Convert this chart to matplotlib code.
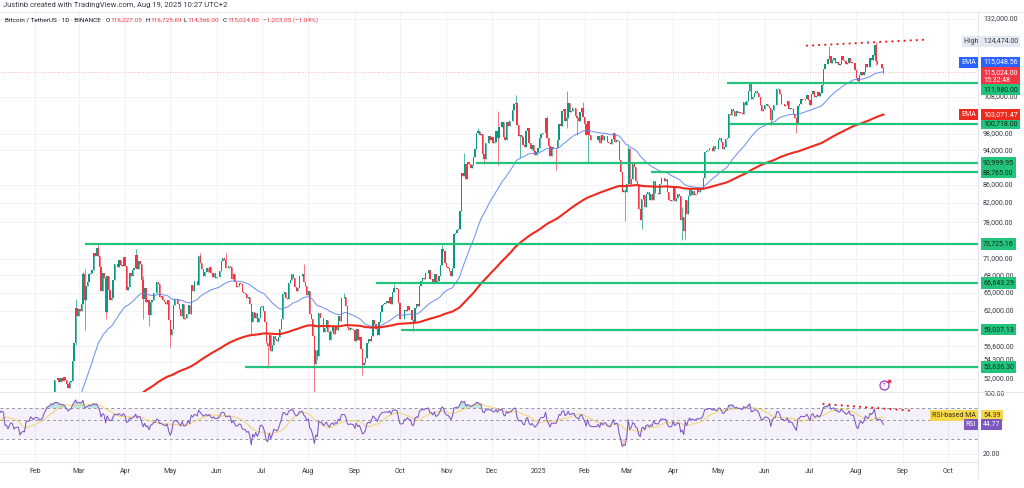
import numpy as np
import pandas as pd
import matplotlib
matplotlib.use("Agg")
import matplotlib.pyplot as plt
import matplotlib.dates as mdates
from matplotlib import transforms
from matplotlib.lines import Line2D

plt.rcParams["font.family"] = ["Roboto", "DejaVu Sans"]

W, H = 1024, 488

# ============================================================
# DAILY CLOSES  (BTC/USDT, Binance, 1D)
# ============================================================
DEC_2023 = [43650, 43860, 43990, 43720, 43010, 43580, 42510, 43440, 42580, 42070,
            42140, 42280]
JAN_2024 = [44180, 44950, 42850, 44150, 44160, 43970, 43930, 46970, 46120, 46630,
            46350, 42780, 42850, 41730, 42510, 43140, 42770, 41260, 41620, 41660,
            41570, 39520, 39890, 40080, 39930, 41820, 42120, 42030, 43300, 42940, 42580]
FEB_2024 = [43080, 43190, 43000, 42580, 42700, 43090, 44340, 45290, 47130, 47750,
            48290, 49960, 49700, 51800, 51920, 52140, 51650, 52130, 51780, 52260,
            51840, 51300, 50730, 51570, 51730, 54480, 57040, 62430, 61130]
MAR_2024 = [62390, 62030, 63130, 68250, 63720, 66080, 66850, 68260, 68340, 68950,
            72110, 71430, 73060, 71400, 69450, 65310, 68390, 67550, 61910, 67910,
            65490, 63780, 64040, 67220, 69960, 69980, 69430, 70760, 69880, 69640, 71280]
APR_2024 = [69650, 65460, 65960, 68490, 67820, 68900, 69360, 71620, 69140, 70590,
            70060, 67190, 63920, 65740, 63410, 63790, 61280, 63470, 63820, 64940,
            64940, 66840, 66410, 64280, 64500, 63770, 63460, 63120, 63840, 60640]
MAY_2024 = [58250, 59120, 62890, 63890, 64010, 63160, 62330, 61190, 63070, 60790,
            60820, 61480, 62940, 61580, 66270, 65230, 67050, 66940, 66280, 71450,
            70140, 69120, 67930, 68530, 69290, 68510, 69390, 68370, 67630, 68350, 67490]
JUN_2024 = [67710, 67750, 68800, 70570, 71080, 70760, 69340, 69310, 69650, 69510,
            67320, 68240, 66760, 66010, 66190, 66640, 66490, 65150, 64960, 64830,
            64100, 64260, 63200, 60280, 61800, 60860, 61670, 60320, 60890, 62680]
JUL_2024 = [62770, 62020, 60200, 57040, 56640, 58230, 55850, 56700, 58050, 57720,
            57340, 57890, 59200, 60800, 64720, 65040, 64090, 63990, 66660, 67150,
            68160, 67540, 65930, 65370, 65800, 67910, 67810, 68250, 66780, 66190, 64620]
AUG_2024 = [65350, 61500, 60690, 58110, 53990, 56030, 55130, 61680, 60830, 60900,
            58710, 59350, 60600, 58740, 57560, 58870, 59480, 58430, 59490, 59010,
            61160, 60380, 64090, 64180, 64250, 62830, 59420, 59030, 59360, 59120, 58970]
SEP_2024 = [57330, 59130, 57490, 57970, 56160, 53960, 54160, 54870, 57050, 57640,
            57340, 58130, 60500, 60000, 59180, 58210, 60310, 61760, 62950, 63200,
            63350, 63580, 63330, 64300, 63140, 65180, 65770, 65860, 65600, 63300]
OCT_2024 = [60800, 60650, 60750, 62080, 62060, 62820, 62220, 62130, 60580, 60270,
            62450, 63190, 62850, 66080, 67040, 67610, 67400, 68430, 68360, 69000,
            67370, 67380, 66650, 68160, 66640, 67010, 67930, 69910, 72720, 72340, 70220]
NOV_2024 = [69490, 69370, 68780, 67810, 69360, 75640, 75900, 76540, 76680, 80370,
            88700, 87960, 90580, 87250, 91070, 90610, 89850, 90460, 92310, 94290,
            98320, 98890, 97670, 97900, 93010, 91970, 95860, 95640, 97460, 96410]
DEC_2024 = [97190, 95840, 96000, 98770, 96970, 99870, 99830, 101110, 97360, 96590,
            101120, 100010, 101420, 101370, 104300, 106060, 106130, 100200, 97460, 97800,
            97290, 95190, 94880, 98670, 99430, 95790, 94300, 95280, 93730, 92790, 93580]
JAN_2025 = [94590, 96890, 98110, 98240, 98350, 102280, 96950, 95040, 92480, 94700,
            94570, 94540, 94500, 96530, 100500, 99990, 104080, 104560, 101330, 102260,
            106140, 103650, 103960, 104820, 104710, 102590, 102080, 101330, 103730, 104740, 102430]
FEB_2025 = [100640, 97690, 101400, 97870, 96620, 96550, 96480, 96500, 96450, 97430,
            95780, 97870, 96610, 97500, 97570, 96120, 95770, 95540, 96640, 98330,
            96130, 96580, 96270, 91550, 88740, 84350, 84700, 84350]
MAR_2025 = [86070, 94270, 86220, 87220, 90620, 89960, 86740, 86150, 80730, 78530,
            82860, 83720, 81070, 83970, 84340, 82580, 84010, 82720, 86850, 84170,
            84040, 83830, 86080, 87500, 87420, 86900, 87220, 84350, 82600, 82340, 82550]
APR_2025 = [85160, 82490, 83100, 83840, 83500, 78370, 79140, 76270, 82570, 79590,
            83400, 85280, 83760, 84540, 83600, 84020, 84900, 84450, 85060, 85170,
            87510, 93440, 93690, 93980, 94640, 94630, 93750, 95010, 94260, 94170]
MAY_2025 = [96490, 96910, 95890, 94320, 94750, 96830, 97030, 103240, 102970, 104700,
            104120, 102790, 104140, 103490, 103740, 103480, 103120, 106450, 105610, 106830,
            109670, 111700, 107290, 107790, 109030, 109440, 108940, 107780, 105640, 103990, 104600]
JUN_2025 = [105650, 105880, 105430, 104730, 101580, 104390, 105600, 105730, 110260, 110260,
            108690, 105930, 106070, 105410, 105590, 106800, 104550, 104850, 104620, 103300,
            102120, 100960, 105390, 105920, 107300, 106990, 107070, 107310, 108360, 107130]
JUL_2025 = [105680, 108830, 109570, 107990, 108180, 109170, 108220, 108920, 111230, 115980,
            117520, 117420, 119080, 119840, 117680, 118750, 119180, 117920, 117960, 117230,
            117380, 119950, 118750, 118340, 117600, 117920, 119450, 118060, 117920, 117830, 115760]
AUG_2025 = [113300, 112550, 114210, 115050, 114110, 115010, 117500, 116670, 116460, 119290,
            118690, 120130, 123310, 118300, 117340, 117380, 117490, 116227.05, 115024.00]

MONTHS = [("2023-12-20", DEC_2023), ("2024-01-01", JAN_2024), ("2024-02-01", FEB_2024),
          ("2024-03-01", MAR_2024), ("2024-04-01", APR_2024), ("2024-05-01", MAY_2024),
          ("2024-06-01", JUN_2024), ("2024-07-01", JUL_2024), ("2024-08-01", AUG_2024),
          ("2024-09-01", SEP_2024), ("2024-10-01", OCT_2024), ("2024-11-01", NOV_2024),
          ("2024-12-01", DEC_2024), ("2025-01-01", JAN_2025), ("2025-02-01", FEB_2025),
          ("2025-03-01", MAR_2025), ("2025-04-01", APR_2025), ("2025-05-01", MAY_2025),
          ("2025-06-01", JUN_2025), ("2025-07-01", JUL_2025), ("2025-08-01", AUG_2025)]

# the visible long wicks
WICK_HIGHS = {
    "2024-02-28": 63970, "2024-03-04": 68500, "2024-03-05": 69170, "2024-03-14": 73777,
    "2024-04-08": 72800, "2024-04-13": 67930, "2024-05-21": 71950, "2024-06-07": 71997,
    "2024-07-29": 70080, "2024-08-05": 58300, "2024-08-25": 65000, "2024-09-27": 66500,
    "2024-10-29": 73620, "2024-11-13": 93265, "2024-11-22": 99588, "2024-12-05": 104088,
    "2024-12-17": 108353, "2025-01-07": 102725, "2025-01-20": 109588, "2025-01-31": 106457,
    "2025-03-02": 95000, "2025-03-03": 94420, "2025-04-07": 81243, "2025-05-22": 111980,
    "2025-06-10": 110400, "2025-07-14": 123218, "2025-08-14": 124474, "2025-08-19": 116725.69,
}
WICK_LOWS = {
    "2024-02-28": 56700, "2024-03-05": 59005, "2024-03-19": 60775, "2024-04-13": 60660,
    "2024-04-17": 59600, "2024-05-01": 56552, "2024-06-24": 58400, "2024-07-05": 53485,
    "2024-08-05": 49000, "2024-08-07": 54560, "2024-09-06": 52550, "2024-10-10": 58900,
    "2024-11-26": 90790, "2024-12-05": 90500, "2024-12-20": 92232, "2025-01-13": 89256,
    "2025-01-20": 99550, "2025-01-27": 97795, "2025-02-03": 91231, "2025-02-28": 78258,
    "2025-03-11": 76606, "2025-04-07": 74508, "2025-04-09": 74620, "2025-06-05": 100372,
    "2025-06-22": 98200, "2025-08-03": 111920, "2025-08-14": 117180, "2025-08-19": 114366,
}

# EMA state just before the first candle (estimated)
EMA_FAST_SEED, EMA_SLOW_SEED = 40500, 34000

# horizontal support / resistance lines
LEVELS = [111980.00, 100718.00, 90999.95, 88765.00, 73725.16, 66643.29, 59037.13, 53636.30]
LEVEL_START = ["2025-05-07", "2025-05-08", "2024-11-21", "2025-03-17",
               "2024-03-05", "2024-09-15", "2024-10-02", "2024-06-20"]

# dotted divergence lines
TREND_DATES = ["2025-06-29", "2025-09-15"]
TREND_PRICE = [123200, 125100]
RSI_TREND_DATES = ["2025-07-10", "2025-09-07"]
RSI_TREND_VALS = [78.2, 65.2]

PRICE_TICKS = [132000, 108000, 98000, 94000, 86000, 82000, 78000, 71000,
               68000, 65000, 62000, 56600, 54300, 52000]
RSI_TICKS = [100, 20]

OHLC = [116227.05, 116725.69, 114366.00, 115024.00]
CHANGE, CHANGE_PCT = -1203.05, -1.04
EMA_FAST_LAST, EMA_SLOW_LAST = 115048.56, 103071.47
HIGH_LAST = 124474.00
RSI_LAST, RSI_MA_LAST = 44.77, 54.39

# ============================================================
# BUILD SERIES
# ============================================================
dates, closes = [], []
for i, (start, vals) in enumerate(MONTHS):
    d0 = pd.Timestamp(start)
    n = d0.days_in_month - d0.day + 1
    if i < len(MONTHS) - 1:
        assert len(vals) == n, (start, len(vals), n)
    dates += list(pd.date_range(d0, periods=len(vals), freq="D"))
    closes += vals
dates = pd.DatetimeIndex(dates)
closes = np.array(closes, float)
opens = np.r_[closes[0], closes[:-1]]
highs = np.maximum(opens, closes)
lows = np.minimum(opens, closes)
pos = {d.strftime("%Y-%m-%d"): i for i, d in enumerate(dates)}
for d, v in WICK_HIGHS.items():
    highs[pos[d]] = max(highs[pos[d]], v)
for d, v in WICK_LOWS.items():
    lows[pos[d]] = min(lows[pos[d]], v)
x = mdates.date2num(dates)


def ema(values, span, seed):
    a = 2 / (span + 1)
    out, e = [], seed
    for v in values:
        e += a * (v - e)
        out.append(e)
    return np.array(out)


ema_fast = ema(closes, 50, EMA_FAST_SEED)
ema_slow = ema(closes, 200, EMA_SLOW_SEED)

diff = np.diff(closes, prepend=closes[0])
up = pd.Series(np.clip(diff, 0, None)).ewm(alpha=1 / 14, adjust=False).mean()
dn = pd.Series(np.clip(-diff, 0, None)).ewm(alpha=1 / 14, adjust=False).mean()
rsi = (100 - 100 / (1 + up / dn)).to_numpy()
rsi_ma = pd.Series(rsi).rolling(14).mean().to_numpy()

# ============================================================
# FIGURE
# ============================================================
GREEN_C, RED_C = "#089981", "#f23645"
LEVEL_C = "#22c47c"
TXT = "#363a45"
GRID = "#f0f2f6"
SEP = "#e0e3eb"

fig = plt.figure(figsize=(W / 100, H / 100), dpi=100)
fig.patch.set_facecolor("white")
ax = fig.add_axes([0, (H - 392) / H, 978 / W, 380 / H])
ax_r = fig.add_axes([0, (H - 462) / H, 978 / W, 70 / H], sharex=ax)

PX_PER_DAY = 1.5017
x_left = mdates.date2num(pd.Timestamp("2024-02-01")) - 35 / PX_PER_DAY
x_right = x_left + 978 / PX_PER_DAY

months = pd.date_range("2024-02-01", "2025-10-01", freq="MS")
month_x = mdates.date2num(months)
month_lbl = [str(m.year) if m.month == 1 else m.strftime("%b") for m in months]

for a in (ax, ax_r):
    for s in a.spines.values():
        s.set_visible(False)
    for mx in month_x:
        a.axvline(mx, color=GRID, lw=0.7, zorder=0)

# --- price pane ---
ax.set_yscale("log")
for t in PRICE_TICKS:
    ax.axhline(t, color=GRID, lw=0.7, zorder=0)

up_mask = closes >= opens
cols = np.where(up_mask, GREEN_C, RED_C)
ax.vlines(x, lows, highs, colors=cols, lw=0.6, alpha=0.8, zorder=2)
ax.bar(x, np.maximum(np.abs(closes - opens), 1), bottom=np.minimum(opens, closes),
       width=0.85, color=cols, linewidth=0, zorder=3)

ax.plot(x, ema_fast, color="#5b80ee", lw=0.75, alpha=0.85, zorder=4)
ax.plot(x, ema_slow, color="#ee2a1e", lw=1.5, zorder=4)

for lv, st in zip(LEVELS, LEVEL_START):
    ax.hlines(lv, mdates.date2num(pd.Timestamp(st)), x_right, color=LEVEL_C, lw=1.6, zorder=5)

ax.plot(mdates.date2num(pd.to_datetime(TREND_DATES)), TREND_PRICE, color="#e8221b",
        lw=1.6, ls=(0, (0.05, 2.7)), dash_capstyle="round", zorder=6)
ax.axhline(OHLC[3], color=RED_C, lw=0.6, ls=(0, (1, 2)), alpha=0.45, zorder=1)

ax.set_xlim(x_left, x_right)
ax.set_ylim(50270, 134414)
ax.set_yticks([])
ax.set_yticks([], minor=True)
ax.tick_params(axis="x", which="both", length=0, labelbottom=False)

# lightning badge
ax.plot([0.904], [0.019], transform=ax.transAxes, marker="o", ms=6.5, mfc="white",
        mec="#a23bc4", mew=0.9, clip_on=False, zorder=7)
ax.text(0.904, 0.019, "\u26a1", transform=ax.transAxes, fontsize=4.5, color="#a23bc4",
        ha="center", va="center", family="DejaVu Sans", zorder=8)
ax.plot([0.9085], [0.029], transform=ax.transAxes, marker="o", ms=1.8, color=RED_C,
        clip_on=False, zorder=9)

# --- RSI pane ---
ax_r.set_yscale("log")
ax_r.axhspan(30, 70, color="#7e57c2", alpha=0.08, lw=0, zorder=0)
for lv in (70, 50, 30):
    ax_r.axhline(lv, color="#9598a1", lw=0.7, ls=(0, (3, 3)), zorder=1)
ax_r.axhline(20, color=GRID, lw=0.7, zorder=0)
ax_r.fill_between(x, 70, rsi, where=rsi > 70, color="#26a69a", alpha=0.3, lw=0, zorder=2)
ax_r.fill_between(x, 30, rsi, where=rsi < 30, color="#ef5350", alpha=0.3, lw=0, zorder=2)
ax_r.plot(x, rsi_ma, color="#f2cf5b", lw=0.8, alpha=0.8, zorder=3)
ax_r.plot(x, rsi, color="#7e57c2", lw=0.75, zorder=4)
ax_r.plot(mdates.date2num(pd.to_datetime(RSI_TREND_DATES)), RSI_TREND_VALS, color="#e8221b",
          lw=1.6, ls=(0, (0.05, 2.7)), dash_capstyle="round", zorder=6)
ax_r.set_ylim(16.1, 108.5)
ax_r.set_yticks([])
ax_r.set_yticks([], minor=True)
ax_r.set_xticks(month_x)
ax_r.set_xticklabels(month_lbl, fontsize=5, color=TXT)
ax_r.tick_params(axis="x", length=0, pad=4)

# separators
for coords in ([[0, 1], [1 - 12 / H] * 2], [[0, 1], [1 - 392 / H] * 2],
               [[0, 978 / W], [1 - 462 / H] * 2], [[978 / W] * 2, [1 - 12 / H, 1 - 478 / H]]):
    fig.add_artist(Line2D(coords[0], coords[1], transform=fig.transFigure, color=SEP, lw=0.6))

# ============================================================
# RIGHT AXIS LABELS
# ============================================================
def axis_label(a, value, text, fc=None, tc=TXT, dy=0, x_px=983, ha="left", size=5):
    tr = transforms.offset_copy(
        transforms.blended_transform_factory(fig.transFigure, a.transData),
        fig=fig, y=dy, units="dots")
    kw = {}
    if fc:
        kw["bbox"] = dict(boxstyle="square,pad=0.3", fc=fc, ec="none")
    a.text(x_px / W, value, text, transform=tr, fontsize=size, color=tc, ha=ha,
           va="center", clip_on=False, zorder=20, linespacing=1.15, **kw)


for t in PRICE_TICKS:
    axis_label(ax, t, f"{t:,.2f}", dy=3 if t == 54300 else 0)
for t in RSI_TICKS:
    axis_label(ax_r, t, f"{t:,.2f}")

axis_label(ax, HIGH_LAST, f"High   {HIGH_LAST:,.2f}", fc="#e4e8f2", x_px=964)
axis_label(ax, EMA_FAST_LAST, "EMA", fc="#2962ff", tc="white", dy=10, x_px=976, ha="right")
axis_label(ax, EMA_FAST_LAST, f"{EMA_FAST_LAST:,.2f}", fc="#2962ff", tc="white", dy=10)
axis_label(ax, OHLC[3], f"{OHLC[3]:,.2f}\n15:32:48", fc=RED_C, tc="white", dy=-4)
for lv in LEVELS:
    axis_label(ax, lv, f"{lv:,.2f}", fc=LEVEL_C, tc="#0d2b1c", dy=-7 if lv == LEVELS[0] else 0)
axis_label(ax, EMA_SLOW_LAST, "EMA", fc="#ee2a1e", tc="white", x_px=976, ha="right")
axis_label(ax, EMA_SLOW_LAST, f"{EMA_SLOW_LAST:,.2f}", fc="#ee2a1e", tc="white")

axis_label(ax_r, RSI_MA_LAST, "RSI-based MA", fc="#f7d84a", tc="#3a3310", dy=2, x_px=976, ha="right")
axis_label(ax_r, RSI_MA_LAST, f"{RSI_MA_LAST:.2f}", fc="#f7d84a", tc="#3a3310", dy=2)
axis_label(ax_r, RSI_LAST, "RSI", fc="#7e57c2", tc="white", x_px=976, ha="right")
axis_label(ax_r, RSI_LAST, f"{RSI_LAST:.2f}", fc="#7e57c2", tc="white")

# ============================================================
# HEADER
# ============================================================
renderer = fig.canvas.get_renderer()


def run_text(x_px, y_px, parts, size):
    for s, c in parts:
        t = fig.text(x_px / W, 1 - y_px / H, s, color=c, fontsize=size, va="center")
        x_px += t.get_window_extent(renderer).width


def top(x_px, y_px, s, c, size):
    fig.text(x_px / W, 1 - y_px / H, s, color=c, fontsize=size, va="center")


top(3, 5, "Justinb created with TradingView.com, Aug 19, 2025 10:27 UTC+2", TXT, 5.5)
top(5, 20, "Bitcoin / TetherUS \u00b7 1D \u00b7 BINANCE", "#131722", 4.6)
o, h, l, c = OHLC
for x_px, letter, val in ((106, "O", o), (146, "H", h), (184, "L", l), (223, "C", c)):
    run_text(x_px, 20, [(letter, "#131722"), (f"{val:,.2f}", RED_C)], 4.6)
top(263, 20, f"\u2212{abs(CHANGE):,.2f} (\u2212{abs(CHANGE_PCT):.2f}%)", RED_C, 4.6)

fig.savefig("out.png", dpi=100, facecolor="white")
